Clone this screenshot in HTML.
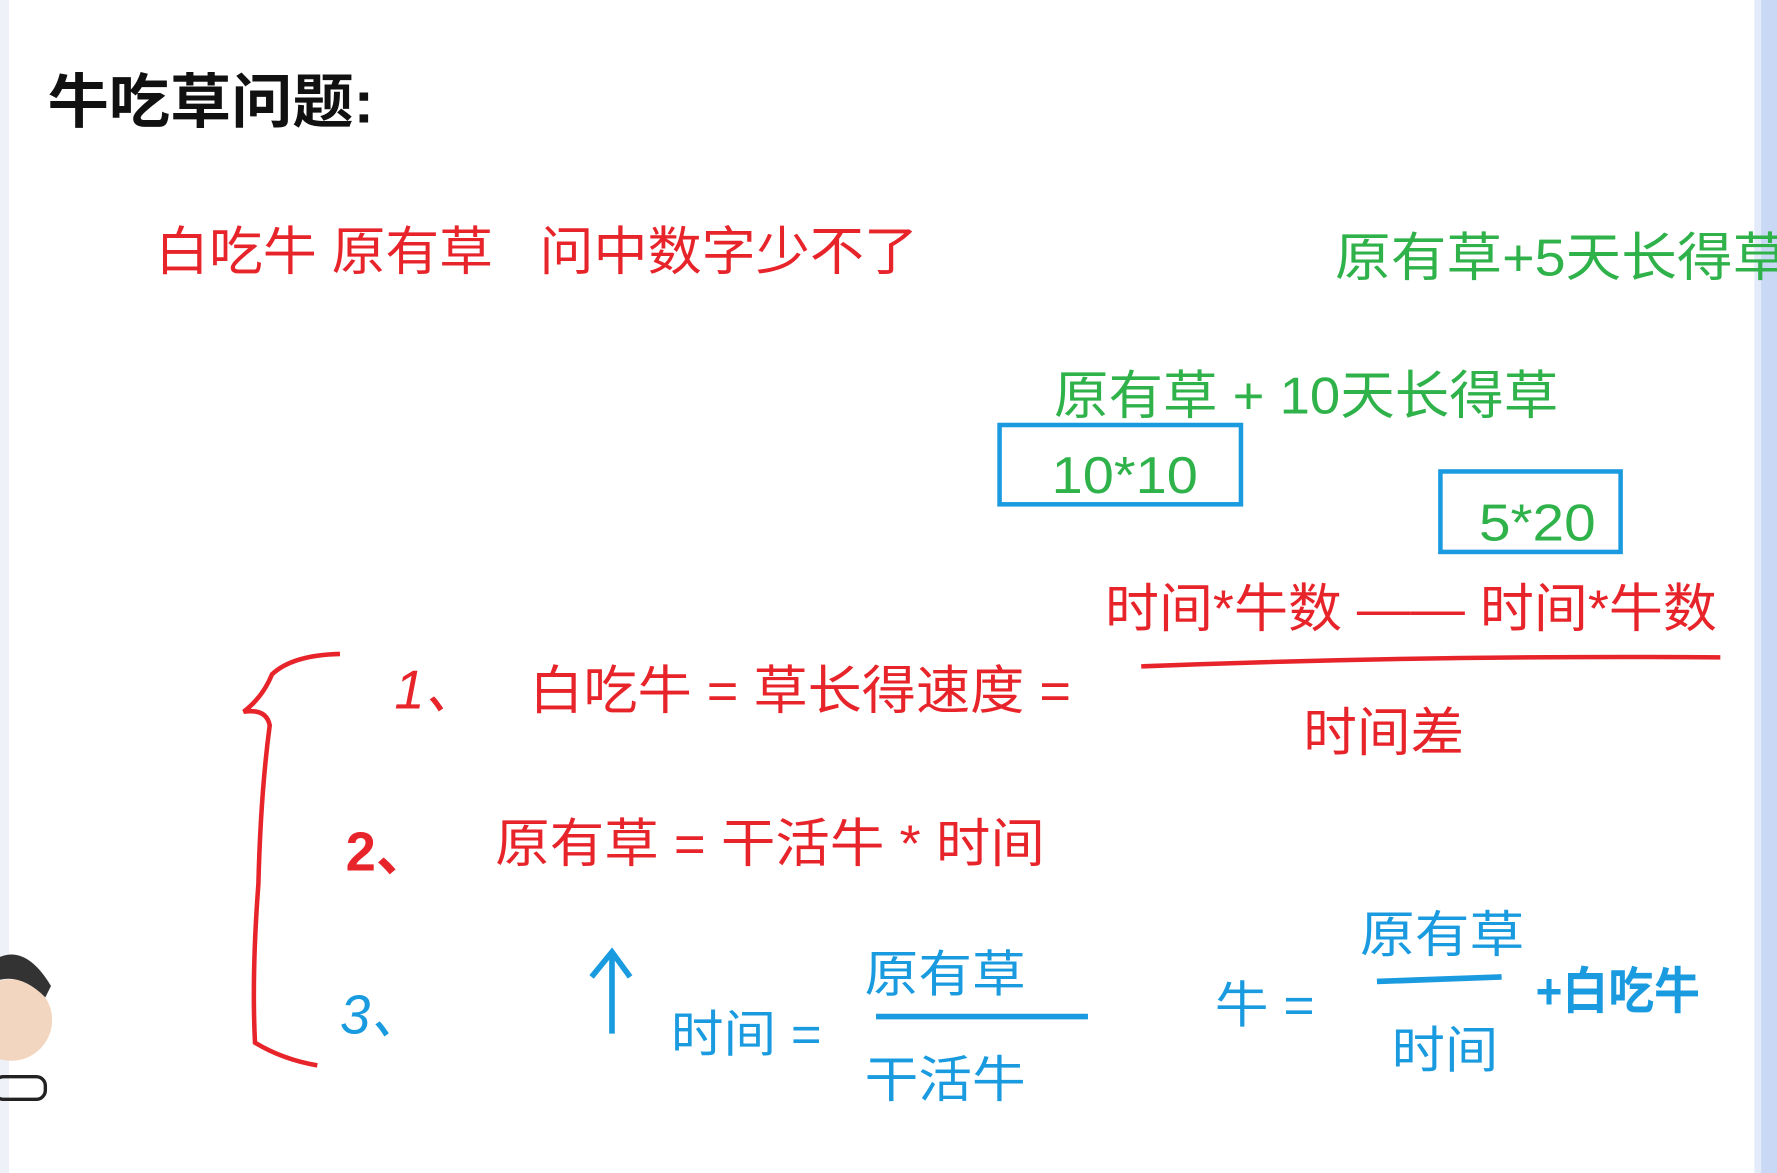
<!DOCTYPE html>
<html><head><meta charset="utf-8"><style>
html,body{margin:0;padding:0;background:#fff;overflow:hidden}
svg{display:block}
text{font-family:"Liberation Sans","Noto Sans CJK SC",sans-serif}
</style></head><body>
<svg width="1777" height="1173" viewBox="0 0 1568 1035" preserveAspectRatio="none" xmlns="http://www.w3.org/2000/svg">
<rect width="1568" height="1035" fill="#fff"/>
<rect x="0" y="0" width="8" height="1035" fill="#eef1f7"/>
<rect x="1552" y="0" width="16" height="1035" fill="#c9d9f5"/>
<rect x="1548" y="0" width="6" height="1035" fill="#e3ebfa"/>
<text x="42" y="108" font-size="52" font-weight="bold" fill="#111" textLength="288" lengthAdjust="spacingAndGlyphs">牛吃草问题:</text>
<g fill="#e8242b" font-size="46">
<text x="137" y="238" textLength="298" lengthAdjust="spacingAndGlyphs">白吃牛 原有草</text>
<text x="476" y="238" textLength="334" lengthAdjust="spacingAndGlyphs">问中数字少不了</text>
<text x="975" y="553" textLength="540" lengthAdjust="spacingAndGlyphs">时间*牛数 —— 时间*牛数</text>
<text x="1150" y="662" textLength="142" lengthAdjust="spacingAndGlyphs">时间差</text>
<text x="467" y="625" textLength="478" lengthAdjust="spacingAndGlyphs">白吃牛 = 草长得速度 =</text>
<text x="437" y="760" textLength="485" lengthAdjust="spacingAndGlyphs">原有草 = 干活牛 * 时间</text>
<text x="348" y="625" font-size="48" font-style="italic">1、</text>
<text x="305" y="768" font-size="48" font-weight="bold">2、</text>
</g>
<path d="M1007 588 Q1260 578 1518 580" stroke="#e8242b" stroke-width="4" fill="none"/>
<path d="M300 577 Q258 578 240 595 Q232 615 215 628 Q235 625 238 640 Q230 700 228 780 Q222 860 225 920 Q250 935 280 940" stroke="#e8242b" stroke-width="4" fill="none"/>
<g fill="#2fb24a" font-size="46">
<text x="1178" y="243" textLength="400" lengthAdjust="spacingAndGlyphs">原有草+5天长得草</text>
<text x="930" y="365" textLength="445" lengthAdjust="spacingAndGlyphs">原有草 + 10天长得草</text>
<text x="928" y="435" textLength="129" lengthAdjust="spacingAndGlyphs">10*10</text>
<text x="1305" y="477" textLength="103" lengthAdjust="spacingAndGlyphs">5*20</text>
</g>
<rect x="882" y="375" width="213" height="70" fill="none" stroke="#1a9be0" stroke-width="4"/>
<rect x="1271" y="416" width="159" height="71" fill="none" stroke="#1a9be0" stroke-width="4"/>
<g fill="#1a9be0" font-size="44">
<text x="300" y="912" font-size="48" font-style="italic">3、</text>
<text x="592" y="928" textLength="133" lengthAdjust="spacingAndGlyphs">时间 =</text>
<text x="763" y="875" textLength="142" lengthAdjust="spacingAndGlyphs">原有草</text>
<text x="763" y="968" textLength="142" lengthAdjust="spacingAndGlyphs">干活牛</text>
<text x="1072" y="902" textLength="88" lengthAdjust="spacingAndGlyphs">牛 =</text>
<text x="1200" y="840" textLength="145" lengthAdjust="spacingAndGlyphs">原有草</text>
<text x="1228" y="942" textLength="94" lengthAdjust="spacingAndGlyphs">时间</text>
<text x="1355" y="890" font-size="44" font-weight="bold" textLength="145" lengthAdjust="spacingAndGlyphs">+白吃牛</text>
</g>
<path d="M540 912 L540 842 M522 862 L540 840 L556 862" stroke="#1a9be0" stroke-width="5" fill="none"/>
<path d="M773 897 L960 897" stroke="#1a9be0" stroke-width="5"/>
<path d="M1215 866 L1325 862" stroke="#1a9be0" stroke-width="5"/>
<circle cx="10" cy="900" r="36" fill="#f3d6c0"/>
<path d="M-20 860 Q15 820 45 870 L40 880 Q10 850 -20 875Z" fill="#333"/>
<rect x="-5" y="950" width="45" height="20" rx="8" fill="none" stroke="#222" stroke-width="3"/>
</svg>
</body></html>
